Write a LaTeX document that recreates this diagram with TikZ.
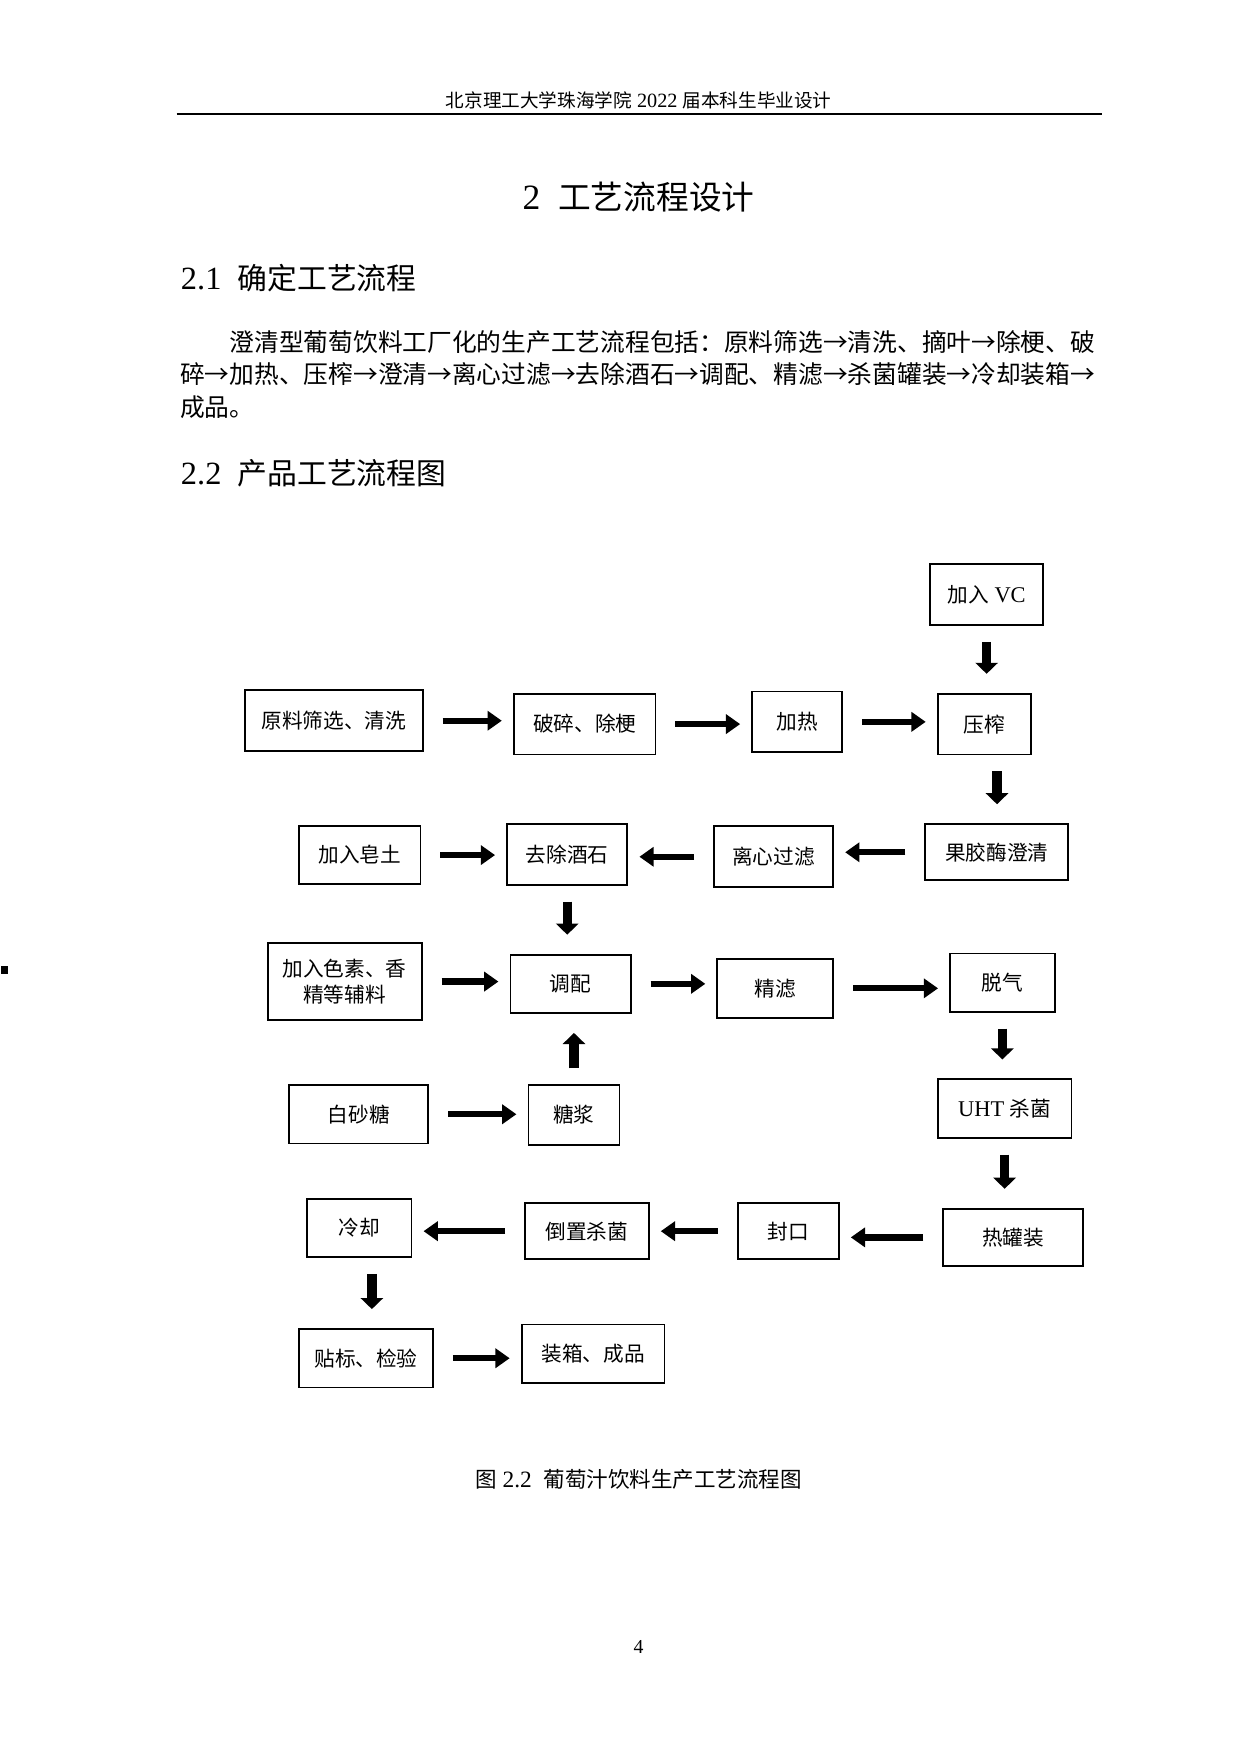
\documentclass[tikz,border=0pt]{standalone}
\usepackage{fontspec}
\setmainfont{Liberation Serif}
\newfontfamily\cjk{Noto Sans CJK SC}[Scale=0.92]
\newcommand{\zh}[1]{{\cjk #1}}
\usetikzlibrary{arrows.meta}
\begin{document}
\begin{tikzpicture}[x=0.025cm,y=-0.025cm,
 bx/.style={draw,line width=1.2pt,minimum width=#1*0.025cm,font=\fontsize{14.2}{17}\selectfont,align=center,inner sep=0pt},
 ar/.style={line width=4pt,-{Triangle[length=9pt,width=12pt]},shorten <=12pt,shorten >=7pt},
 va/.style={line width=6pt,-{Triangle[length=7pt,width=14pt]},shorten <=10pt,shorten >=12pt}]
\useasboundingbox (0,0) rectangle (1103,1560);
\node[font=\fontsize{12.8}{15}\selectfont] at (568,89) {\zh{北京理工大学珠海学院} 2022 \zh{届本科生毕业设计}};
\draw[line width=1.2pt] (157,101) -- (980,101);
\node[font=\fontsize{22.5}{26}\selectfont] at (568,175) {2\ \ \zh{工艺流程设计}};
\node[anchor=west,font=\fontsize{20.5}{24}\selectfont] at (156,247) {2.1\ \ \zh{确定工艺流程}};
\node[anchor=west,font=\fontsize{17}{20}\selectfont,inner sep=0pt] at (204,304) {\zh{澄清型葡萄饮料工厂化的生产工艺流程包括：原料筛选→清洗、摘叶→除梗、破}};
\node[anchor=west,font=\fontsize{17}{20}\selectfont,inner sep=0pt] at (160,333) {\zh{碎→加热、压榨→澄清→离心过滤→去除酒石→调配、精滤→杀菌罐装→冷却装箱→}};
\node[anchor=west,font=\fontsize{17}{20}\selectfont,inner sep=0pt] at (160,362) {\zh{成品。}};
\node[anchor=west,font=\fontsize{20.5}{24}\selectfont] at (156,421) {2.2\ \ \zh{产品工艺流程图}};
\fill (1,859) rectangle (7,866);

\node[bx=101,minimum height=54*0.025cm] (vc) at (877.5,529) {\zh{加入} VC};
\node[bx=158,minimum height=54*0.025cm] (yl) at (297,641) {\zh{原料筛选、清洗}};
\node[bx=126,minimum height=54*0.025cm] (ps) at (520,644) {\zh{破碎、除梗}};
\node[bx=80,minimum height=54*0.025cm] (jr) at (709,642) {\zh{加热}};
\node[bx=83,minimum height=54*0.025cm] (yz) at (875.5,644) {\zh{压榨}};
\node[bx=127,minimum height=50*0.025cm] (gj) at (886.5,758) {\zh{果胶酶澄清}};
\node[bx=106,minimum height=54*0.025cm] (lx) at (688,762) {\zh{离心过滤}};
\node[bx=107,minimum height=54*0.025cm] (qc) at (504.5,760) {\zh{去除酒石}};
\node[bx=108,minimum height=51*0.025cm] (zt) at (320,760.5) {\zh{加入皂土}};
\node[bx=137,minimum height=68*0.025cm] (sl) at (306.5,873) {\zh{加入色素、香}\\\zh{精等辅料}};
\node[bx=107,minimum height=52*0.025cm] (tp) at (507.5,875) {\zh{调配}};
\node[bx=103,minimum height=52*0.025cm] (jl) at (689.5,879) {\zh{精滤}};
\node[bx=93,minimum height=52*0.025cm] (tq) at (891.5,874) {\zh{脱气}};
\node[bx=124,minimum height=52*0.025cm] (bt) at (319,991) {\zh{白砂糖}};
\node[bx=81,minimum height=53*0.025cm] (tj) at (510.5,991.5) {\zh{糖浆}};
\node[bx=119,minimum height=52*0.025cm] (uht) at (893.5,986) {UHT \zh{杀菌}};
\node[bx=93,minimum height=52*0.025cm] (lq) at (319.5,1092) {\zh{冷却}};
\node[bx=110,minimum height=50*0.025cm] (dz) at (522,1095) {\zh{倒置杀菌}};
\node[bx=90,minimum height=50*0.025cm] (fk) at (701,1095) {\zh{封口}};
\node[bx=124,minimum height=51*0.025cm] (rg) at (901,1100.5) {\zh{热罐装}};
\node[bx=119,minimum height=52*0.025cm] (tb) at (325.5,1208) {\zh{贴标、检验}};
\node[bx=127,minimum height=52*0.025cm] (zx) at (527.5,1204) {\zh{装箱、成品}};

\draw[va] (vc.south) -- (vc.south |- yz.north);
\draw[ar] (yl.east) -- (ps.west |- yl.east);
\draw[ar] (ps.east) -- (jr.west |- ps.east);
\draw[ar] (jr.east) -- (yz.west |- jr.east);
\draw[va] ([xshift=8]yz.south) -- ([xshift=8]yz.south |- gj.north);
\draw[ar] (gj.west) -- (lx.east |- gj.west);
\draw[ar] (lx.west) -- (qc.east |- lx.west);
\draw[ar] (zt.east) -- (qc.west |- zt.east);
\draw[va] (qc.south) -- (qc.south |- tp.north);
\draw[ar] (sl.east) -- (tp.west |- sl.east);
\draw[ar] (tp.east) -- (jl.west |- tp.east);
\draw[ar] (jl.east) -- (tq.west |- jl.east);
\draw[va] (tq.south) -- (tq.south |- uht.north);
\draw[ar] (bt.east) -- (tj.west |- bt.east);
\draw[va] (tj.north) -- (tj.north |- tp.south);
\draw[va] (uht.south) -- (uht.south |- rg.north);
\draw[ar] (rg.west) -- (fk.east |- rg.west);
\draw[ar] (fk.west) -- (dz.east |- fk.west);
\draw[ar] (dz.west) -- (lq.east |- dz.west);
\draw[va] ([xshift=8]lq.south) -- ([xshift=8]lq.south |- tb.north);
\draw[ar] (tb.east) -- (zx.west |- tb.east);

\node[font=\fontsize{14.8}{17}\selectfont] (cap) at (568,1316) {\zh{图} 2.2\ \ \zh{葡萄汁饮料生产工艺流程图}};
\node[font=\fontsize{12.5}{15}\selectfont] (pg) at (568,1465) {4};
\end{tikzpicture}
\end{document}
